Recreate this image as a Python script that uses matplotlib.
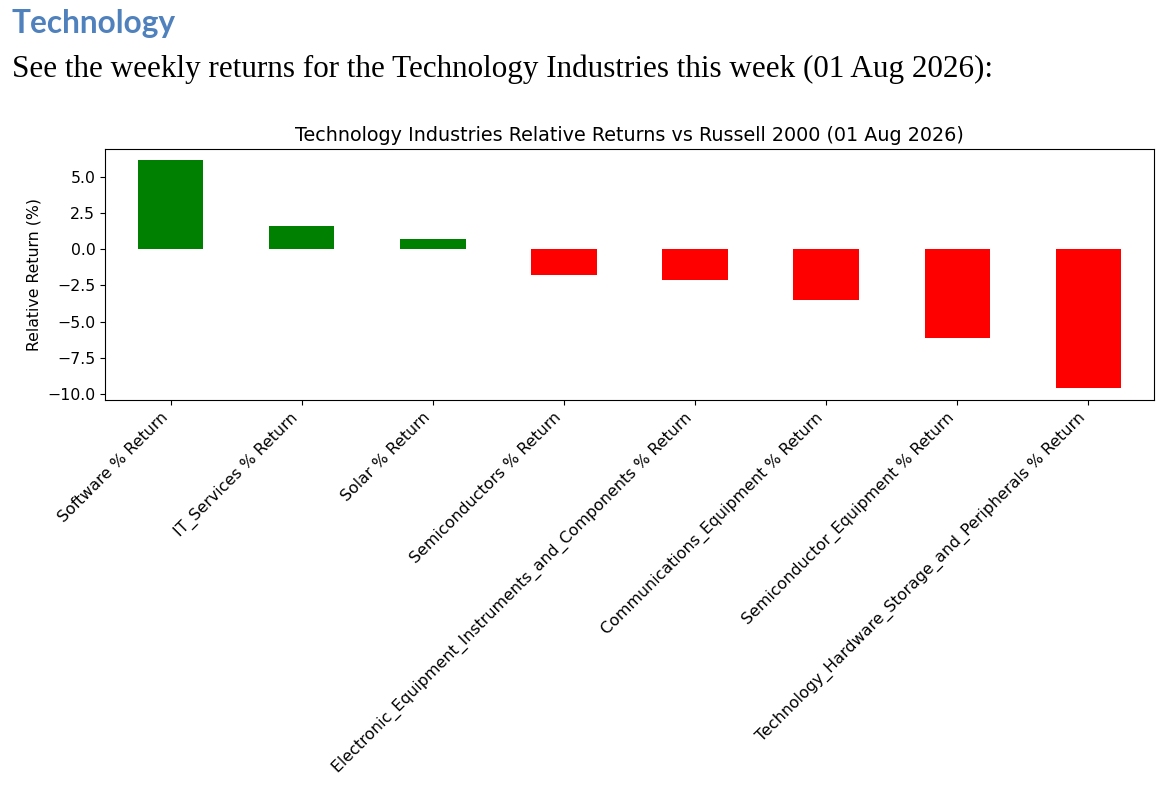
import matplotlib
matplotlib.use("Agg")
import matplotlib.pyplot as plt
import numpy as np

categories = [
    "Software % Return",
    "IT_Services % Return",
    "Solar % Return",
    "Semiconductors % Return",
    "Electronic_Equipment_Instruments_and_Components % Return",
    "Communications_Equipment % Return",
    "Semiconductor_Equipment % Return",
    "Technology_Hardware_Storage_and_Peripherals % Return",
]
values = [6.15, 1.56, 0.73, -1.79, -2.16, -3.51, -6.15, -9.59]
yticks = [-10.0, -7.5, -5.0, -2.5, 0.0, 2.5, 5.0]

W, H = 1168, 786
fig = plt.figure(figsize=(W / 100, H / 100), dpi=100)

fig.text(12 / W, 1 - 33 / H, "Technology", fontsize=22.8, fontweight="bold",
         color="#4F81BD", family="Lato", va="baseline", ha="left")
fig.text(12 / W, 1 - 77 / H,
         "See the weekly returns for the Technology Industries this week (01 Aug 2026):",
         fontsize=22.4, color="black", family="Liberation Serif", va="baseline", ha="left")

ax = fig.add_axes([105 / W, 1 - 400 / H, (1154 - 105) / W, (400 - 149) / H])
x = np.arange(len(categories))
colors = ["green" if v >= 0 else "red" for v in values]
ax.bar(x, values, width=0.5, color=colors)
ax.set_xlim(-0.5, len(categories) - 0.5)
ax.set_ylim(-10.4, 6.9)
ax.set_yticks(yticks)
ax.set_yticklabels([f"{t:.1f}".replace("-", "\u2212") for t in yticks], fontsize=11.3)
ax.set_xticks(x)
ax.set_xticklabels(categories, rotation=45, ha="right", fontsize=11.4)
ax.set_ylabel("Relative Return (%)", fontsize=11.3)
ax.set_title("Technology Industries Relative Returns vs Russell 2000 (01 Aug 2026)",
             fontsize=13.8)

fig.savefig("out.png", dpi=100)
